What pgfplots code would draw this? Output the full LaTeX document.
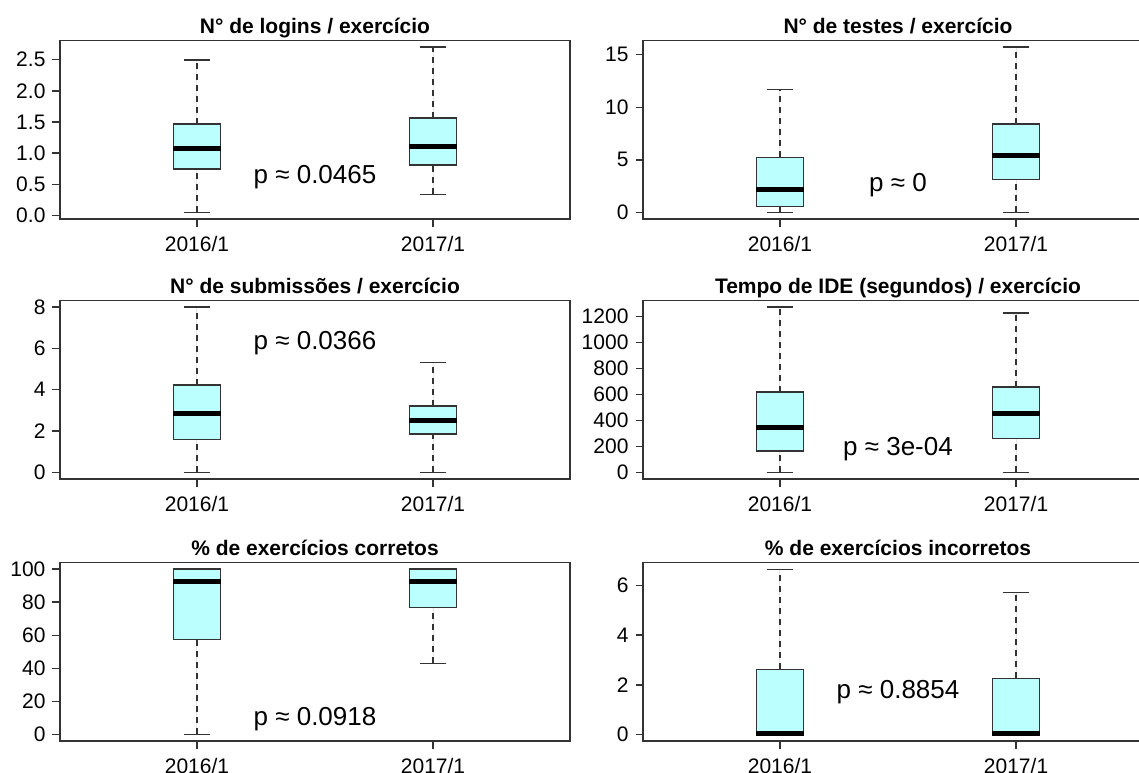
\documentclass[border=0pt]{standalone}
\usepackage{fontspec}
\setmainfont{Liberation Sans}
\usepackage{pgfplots}
\pgfplotsset{compat=1.18}
\usepgfplotslibrary{statistics}
\definecolor{boxfill}{HTML}{BBFFFF}
\definecolor{boxline}{HTML}{333333}

\pgfplotsset{
  rbox/.style={
    scale only axis, width=255pt, height=89.25pt,
    xmin=0.42, xmax=2.58,
    xtick={1,2}, xticklabels={2016/1,2017/1},
    tick pos=left,
    tick align=outside, major tick length=3.75pt,
    axis line style={boxline, line width=0.8pt},
    every tick/.style={boxline, line width=0.7pt},
    tick label style={font=\fontsize{10.5}{12}\selectfont},
    xticklabel style={yshift=-1.5pt},
    /pgf/number format/assume math mode=true,
    /pgf/number format/1000 sep={},
    title style={font=\bfseries\fontsize{10.5}{12}\selectfont, at={(0.5,1)}, anchor=base, yshift=-2.5pt},
    clip=false,
    anchor=south west,
    boxplot/draw direction=y,
    boxplot/every median/.style={line width=2.5pt, draw=black},
    boxplot/draw/lower whisker/.code={%
      \draw[boxline, line width=0.7pt, dash pattern=on 3pt off 2.5pt]
        (boxplot box cs:\pgfplotsboxplotvalue{lower whisker},0.5) --
        (boxplot box cs:\pgfplotsboxplotvalue{lower quartile},0.5);
      \draw[boxline, line width=0.7pt]
        (boxplot whisker cs:\pgfplotsboxplotvalue{lower whisker},0) --
        (boxplot whisker cs:\pgfplotsboxplotvalue{lower whisker},1);
    },
    boxplot/draw/upper whisker/.code={%
      \draw[boxline, line width=0.7pt, dash pattern=on 3pt off 2.5pt]
        (boxplot box cs:\pgfplotsboxplotvalue{upper quartile},0.5) --
        (boxplot box cs:\pgfplotsboxplotvalue{upper whisker},0.5);
      \draw[boxline, line width=0.7pt]
        (boxplot whisker cs:\pgfplotsboxplotvalue{upper whisker},0) --
        (boxplot whisker cs:\pgfplotsboxplotvalue{upper whisker},1);
    },
  },
  rbp/.style={boxplot prepared={#1, box extend=0.2, whisker extend=0.11},
    draw=boxline, fill=boxfill, line width=0.8pt, solid, mark=none},
}
\newcommand{\pfont}{\fontsize{13}{15}\selectfont}

\begin{document}
\begin{tikzpicture}
% Row 1 left
\begin{axis}[rbox, at={(30pt,-109.5pt)},
  title={N° de logins / exercício},
  ymin=-0.058, ymax=2.809, ytick={0,0.5,1,1.5,2,2.5},
  yticklabel style={/pgf/number format/fixed, /pgf/number format/fixed zerofill, /pgf/number format/precision=1}]
\addplot[rbp={lower whisker=0.048, lower quartile=0.744, median=1.076, upper quartile=1.467, upper whisker=2.495, draw position=1}] coordinates {};
\addplot[rbp={lower whisker=0.337, lower quartile=0.814, median=1.103, upper quartile=1.568, upper whisker=2.703, draw position=2}] coordinates {};
\node[font=\pfont] at (axis cs:1.5,0.62) {p ≈ 0.0465};
\end{axis}
% Row 1 right
\begin{axis}[rbox, at={(321.5pt,-109.5pt)},
  title={N° de testes / exercício},
  ymin=-0.63, ymax=16.36, ytick={0,5,10,15}]
\addplot[rbp={lower whisker=0, lower quartile=0.57, median=2.19, upper quartile=5.23, upper whisker=11.70, draw position=1}] coordinates {};
\addplot[rbp={lower whisker=0, lower quartile=3.14, median=5.39, upper quartile=8.40, upper whisker=15.73, draw position=2}] coordinates {};
\node[font=\pfont] at (axis cs:1.5,2.6) {p ≈ 0};
\end{axis}
% Row 2 left
\begin{axis}[rbox, at={(30pt,-239.5pt)},
  title={N° de submissões / exercício},
  ymin=-0.32, ymax=8.32, ytick={0,2,4,6,8}]
\addplot[rbp={lower whisker=0, lower quartile=1.60, median=2.86, upper quartile=4.22, upper whisker=8.0, draw position=1}] coordinates {};
\addplot[rbp={lower whisker=0, lower quartile=1.86, median=2.49, upper quartile=3.22, upper whisker=5.33, draw position=2}] coordinates {};
\node[font=\pfont] at (axis cs:1.5,6.25) {p ≈ 0.0366};
\end{axis}
% Row 2 right
\begin{axis}[rbox, at={(321.5pt,-239.5pt)},
  title={Tempo de IDE (segundos) / exercício},
  ymin=-50.9, ymax=1322.9, ytick={0,200,400,600,800,1000,1200}]
\addplot[rbp={lower whisker=0, lower quartile=164, median=346, upper quartile=618, upper whisker=1272, draw position=1}] coordinates {};
\addplot[rbp={lower whisker=0, lower quartile=262, median=454, upper quartile=659, upper whisker=1226, draw position=2}] coordinates {};
\node[font=\pfont] at (axis cs:1.5,177) {p ≈ 3e-04};
\end{axis}
% Row 3 left
\begin{axis}[rbox, at={(30pt,-370.5pt)},
  title={\% de exercícios corretos},
  ymin=-4, ymax=104, ytick={0,20,40,60,80,100}]
\addplot[rbp={lower whisker=0, lower quartile=57.3, median=92.4, upper quartile=100, upper whisker=100, draw position=1}] coordinates {};
\addplot[rbp={lower whisker=42.9, lower quartile=76.9, median=92.4, upper quartile=100, upper whisker=100, draw position=2}] coordinates {};
\node[font=\pfont] at (axis cs:1.5,9.5) {p ≈ 0.0918};
\end{axis}
% Row 3 right
\begin{axis}[rbox, at={(321.5pt,-370.5pt)},
  title={\% de exercícios incorretos},
  ymin=-0.266, ymax=6.93, ytick={0,2,4,6}]
\addplot[rbp={lower whisker=0, lower quartile=0, median=0.02, upper quartile=2.62, upper whisker=6.66, draw position=1}] coordinates {};
\addplot[rbp={lower whisker=0, lower quartile=0, median=0.02, upper quartile=2.26, upper whisker=5.72, draw position=2}] coordinates {};
\node[font=\pfont] at (axis cs:1.5,1.70) {p ≈ 0.8854};
\end{axis}
\pgfresetboundingbox
\useasboundingbox (0,0) rectangle (569.5pt,-386pt);
\end{tikzpicture}
\end{document}
